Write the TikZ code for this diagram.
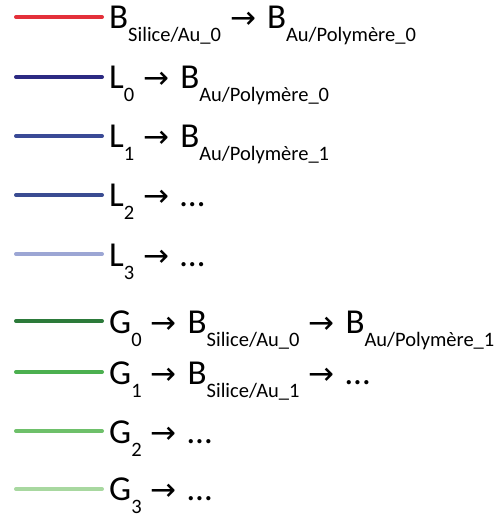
\documentclass[tikz,border=0pt]{standalone}
\usepackage{fontspec}
\setmainfont{Carlito}
\newfontfamily\arrowfont{DejaVu Sans}
\usetikzlibrary{positioning}
\usetikzlibrary{calc}

\definecolor{rougeB}{RGB}{227,48,58}
\definecolor{bleuL0}{RGB}{44,42,130}
\definecolor{bleuL1}{RGB}{58,74,150}
\definecolor{bleuL2}{RGB}{58,76,146}
\definecolor{bleuL3}{RGB}{156,166,212}
\definecolor{vertG0}{RGB}{44,122,58}
\definecolor{vertG1}{RGB}{76,176,80}
\definecolor{vertG2}{RGB}{110,192,106}
\definecolor{vertG3}{RGB}{168,216,160}

% indice abaisse
\newcommand{\ind}[1]{\raisebox{-13pt}{\fontsize{20.5}{20.5}\selectfont #1}}
% fleche
\newcommand{\fl}{\hspace{9pt}{\arrowfont\fontsize{31}{31}\selectfont →}\hspace{11pt}}

\begin{document}
\begin{tikzpicture}[
            x = 1pt, y = -1pt,
            leg/.style = {line width = 4pt, line cap = round},
            lbl/.style = {anchor = base west, inner sep = 0pt,
                          font = \fontsize{35}{38}\selectfont}
        ]

        \useasboundingbox (0,0) rectangle (503,518);

        % B row
        \coordinate (SB) at (16,17);
        \coordinate (EB) at (102,17);
        \draw[leg, rougeB] (SB) -- (EB);
        \node[lbl] (TB) at ($(EB)+(7,12)$) {B\ind{Silice/Au\_0}\fl B\ind{Au/Polymère\_0}};

        % L rows
        \coordinate (SL0) at (16,77);
        \coordinate (EL0) at (102,77);
        \draw[leg, bleuL0] (SL0) -- (EL0);
        \node[lbl] (TL0) at ($(EL0)+(7,12)$) {L\ind{0}\fl B\ind{Au/Polymère\_0}};

        \coordinate (SL1) at (16,136);
        \coordinate (EL1) at (102,136);
        \draw[leg, bleuL1] (SL1) -- (EL1);
        \node[lbl] (TL1) at ($(EL1)+(7,12)$) {L\ind{1}\fl B\ind{Au/Polymère\_1}};

        \coordinate (SL2) at (16,195);
        \coordinate (EL2) at (102,195);
        \draw[leg, bleuL2] (SL2) -- (EL2);
        \node[lbl] (TL2) at ($(EL2)+(7,12)$) {L\ind{2}\fl …};

        \coordinate (SL3) at (16,254);
        \coordinate (EL3) at (102,254);
        \draw[leg, bleuL3] (SL3) -- (EL3);
        \node[lbl] (TL3) at ($(EL3)+(7,12)$) {L\ind{3}\fl …};

        % G rows
        \coordinate (SG0) at (16,321);
        \coordinate (EG0) at (102,321);
        \draw[leg, vertG0] (SG0) -- (EG0);
        \node[lbl] (TG0) at ($(EG0)+(7,12)$) {G\ind{0}\fl B\ind{Silice/Au\_0}\fl B\ind{Au/Polymère\_1}};

        \coordinate (SG1) at (16,372);
        \coordinate (EG1) at (102,372);
        \draw[leg, vertG1] (SG1) -- (EG1);
        \node[lbl] (TG1) at ($(EG1)+(7,12)$) {G\ind{1}\fl B\ind{Silice/Au\_1}\fl …};

        \coordinate (SG2) at (16,431);
        \coordinate (EG2) at (102,431);
        \draw[leg, vertG2] (SG2) -- (EG2);
        \node[lbl] (TG2) at ($(EG2)+(7,12)$) {G\ind{2}\fl …};

        \coordinate (SG3) at (16,489);
        \coordinate (EG3) at (102,489);
        \draw[leg, vertG3] (SG3) -- (EG3);
        \node[lbl] (TG3) at ($(EG3)+(7,11)$) {G\ind{3}\fl …};

\end{tikzpicture}
\end{document}
